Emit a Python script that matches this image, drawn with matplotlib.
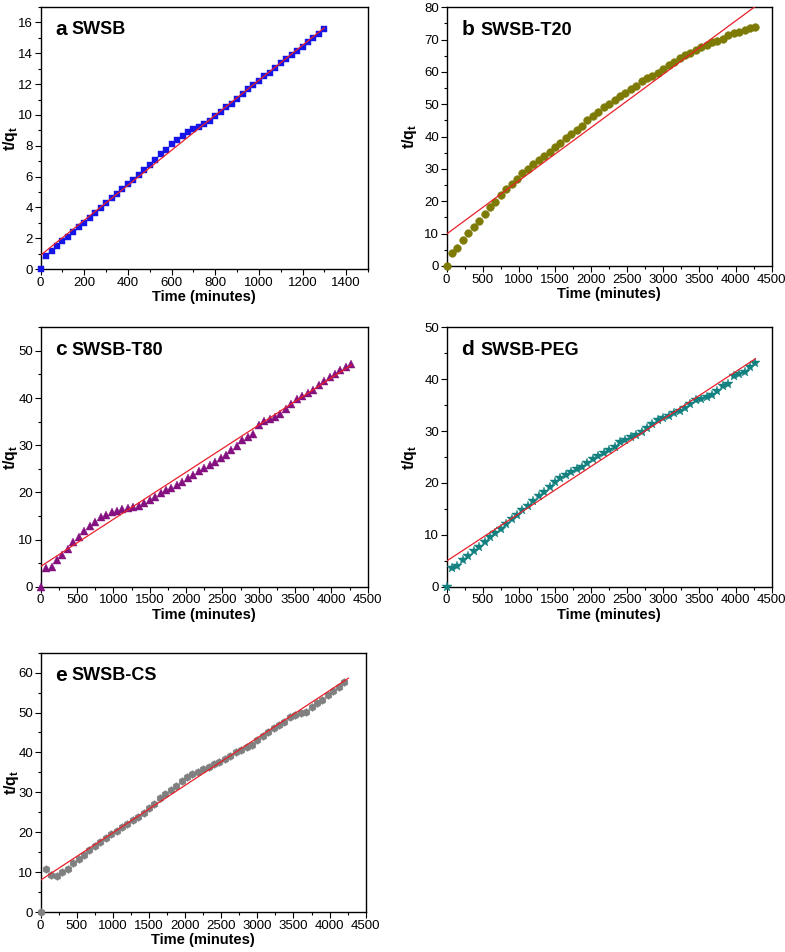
import numpy as np
import matplotlib
matplotlib.use("Agg")
import matplotlib.pyplot as plt
from matplotlib.ticker import MultipleLocator

plt.rcParams['font.family'] = ['Liberation Sans', 'DejaVu Sans']
plt.rcParams['mathtext.fontset'] = 'custom'
plt.rcParams['mathtext.bf'] = 'Liberation Sans:bold'
plt.rcParams['mathtext.rm'] = 'Liberation Sans'

# ---------------- data ----------------
# a SWSB
time_a = [0] + list(range(25, 1301, 25))
val_a = [0, 0.85, 1.17, 1.5, 1.8, 2.1, 2.43, 2.7, 3.0, 3.3, 3.63, 3.95, 4.3, 4.6, 4.9, 5.2,
         5.5, 5.8, 6.1, 6.4, 6.75, 7.1, 7.45, 7.75, 8.1, 8.4, 8.65, 8.9, 9.1, 9.2, 9.4, 9.6,
         9.9, 10.2, 10.5, 10.7, 11.05, 11.35, 11.65, 11.95, 12.2, 12.5, 12.75, 13.05, 13.35,
         13.65, 13.9, 14.15, 14.4, 14.7, 15.0, 15.25, 15.55]
fit_a = (0.9, 0.01135)          # intercept, slope
fit_range_a = (0, 1300)

# b SWSB-T20
time_b = [0] + list(range(75, 4276, 75))
val_b = [0, 3.9, 5.5, 8.0, 10.3, 12.2, 14.0, 16.1, 18.1, 19.9, 22.0, 23.8, 25.4, 26.9, 28.7,
         30.0, 31.5, 32.8, 34.1, 35.4, 36.9, 37.9, 39.5, 40.7, 42.1, 43.3, 45.2, 46.4, 47.6,
         49.1, 50.2, 51.3, 52.6, 53.6, 54.6, 55.8, 57.2, 58.0, 58.9, 59.7, 60.9, 62.2, 63.0,
         64.2, 65.2, 66.0, 66.8, 67.8, 68.5, 69.2, 69.7, 70.3, 71.3, 72.0, 72.4, 73.0, 73.7,
         73.8]
fit_b = (9.9, 0.01647)
fit_range_b = (0, 4300)

# c SWSB-T80
time_c = [0] + list(range(75, 4276, 75))
val_c = [0, 3.9, 4.2, 5.6, 6.7, 8.1, 9.4, 10.6, 11.8, 12.9, 13.8, 14.7, 15.3, 15.8, 16.1,
         16.4, 16.6, 16.8, 17.1, 17.7, 18.4, 19.1, 19.8, 20.5, 21.0, 21.5, 22.2, 23.0, 23.7,
         24.6, 25.1, 25.8, 26.5, 27.2, 27.9, 29.0, 29.9, 31.1, 31.7, 32.3, 34.3, 35.2, 35.5,
         35.9, 36.7, 37.6, 38.7, 39.7, 40.4, 41.1, 41.8, 42.7, 43.6, 44.5, 45.2, 45.9, 46.5,
         47.2]
fit_c = (4.3, 0.00999)
fit_range_c = (0, 4275)

# d SWSB-PEG
time_d = [0] + list(range(75, 4276, 75))
val_d = [0, 3.7, 4.0, 5.1, 6.0, 6.9, 7.7, 8.7, 9.5, 10.3, 11.1, 12.1, 13.0, 13.9, 14.8,
         15.6, 16.6, 17.4, 18.3, 19.3, 20.1, 21.0, 21.5, 22.2, 22.6, 23.1, 23.8, 24.6, 25.2,
         25.7, 26.3, 27.0, 27.8, 28.3, 28.8, 29.3, 29.9, 30.5, 31.3, 32.1, 32.5, 32.9, 33.4,
         33.9, 34.4, 35.3, 36.0, 36.1, 36.5, 36.9, 37.8, 38.7, 39.1, 40.6, 41.0, 41.3, 42.3,
         43.1]
fit_d = (4.95, 0.00912)
fit_range_d = (0, 4275)

# e SWSB-CS
time_e = [0] + list(range(75, 4201, 75))
val_e = [0, 10.7, 9.2, 9.1, 10.0, 10.9, 12.4, 13.2, 14.3, 15.5, 16.5, 17.6, 18.5, 19.5, 20.3,
         21.2, 22.1, 23.1, 23.9, 24.7, 26.0, 27.1, 28.5, 29.6, 30.6, 31.7, 32.8, 33.9, 34.6,
         35.2, 35.8, 36.4, 37.0, 37.7, 38.4, 39.2, 40.0, 40.7, 41.3, 41.9, 43.1, 44.2, 45.2,
         46.0, 46.9, 47.7, 48.8, 49.5, 50.0, 50.2, 51.3, 52.3, 53.1, 54.4, 55.5, 56.5, 57.6]
fit_e = (8.0, 0.01188)
fit_range_e = (0, 4260)

titles = ['a SWSB', 'b SWSB-T20', 'c SWSB-T80', 'd SWSB-PEG', 'e SWSB-CS']

# ---------------- plotting ----------------
fig = plt.figure(figsize=(7.85, 9.52), dpi=100)

panels = [
    dict(t=time_a, v=val_a, fit=fit_a, fr=fit_range_a, title=titles[0],
         pos=[0.0518, 0.7174, 0.417, 0.2752], xlim=(0, 1500), ylim=(0, 17),
         xmaj=200, xmin=100, ymaj=2, ymin=1, marker='s', color='#1515e8', ms=5.0,
         ylx=-0.062),
    dict(t=time_b, v=val_b, fit=fit_b, fr=fit_range_b, title=titles[1],
         pos=[0.569, 0.7206, 0.414, 0.2717], xlim=(0, 4500), ylim=(0, 80),
         xmaj=500, xmin=250, ymaj=10, ymin=5, marker='o', color='#7d7a05', ms=5.6,
         ylx=-0.086),
    dict(t=time_c, v=val_c, fit=fit_c, fr=fit_range_c, title=titles[2],
         pos=[0.0518, 0.3837, 0.4166, 0.2725], xlim=(0, 4500), ylim=(0, 55),
         xmaj=500, xmin=250, ymaj=10, ymin=5, marker='^', color='#85107f', ms=6.0,
         ylx=-0.062),
    dict(t=time_d, v=val_d, fit=fit_d, fr=fit_range_d, title=titles[3],
         pos=[0.569, 0.3837, 0.414, 0.2725], xlim=(0, 4500), ylim=(0, 50),
         xmaj=500, xmin=250, ymaj=10, ymin=5, marker='*', color='#138180', ms=7.2,
         ylx=-0.086),
    dict(t=time_e, v=val_e, fit=fit_e, fr=fit_range_e, title=titles[4],
         pos=[0.0518, 0.042, 0.4141, 0.2724], xlim=(0, 4500), ylim=(0, 65),
         xmaj=500, xmin=250, ymaj=10, ymin=5, marker='h', color='#808080', ms=5.6,
         ylx=-0.062),
]

for p in panels:
    ax = fig.add_axes(p['pos'])
    ax.plot(p['t'], p['v'], linestyle='none', marker=p['marker'], color=p['color'],
            markersize=p['ms'], markeredgewidth=0.3, markeredgecolor=p['color'],
            zorder=3, clip_on=False)
    xs = np.array(p['fr'], dtype=float)
    ax.plot(xs, p['fit'][0] + p['fit'][1] * xs, color='#e8202a', lw=0.9, zorder=4)
    ax.set_xlim(*p['xlim'])
    ax.set_ylim(*p['ylim'])
    ax.xaxis.set_major_locator(MultipleLocator(p['xmaj']))
    ax.xaxis.set_minor_locator(MultipleLocator(p['xmin']))
    ax.yaxis.set_major_locator(MultipleLocator(p['ymaj']))
    ax.yaxis.set_minor_locator(MultipleLocator(p['ymin']))
    ax.tick_params(which='both', direction='out', top=False, right=False,
                   labelsize=9.5, width=0.8, pad=1.5)
    ax.tick_params(which='major', length=4)
    ax.tick_params(which='minor', length=2.2)
    for s in ax.spines.values():
        s.set_linewidth(1.0)
    ax.set_xlabel('Time (minutes)', fontsize=10.5, fontweight='bold', labelpad=1)
    ax.set_ylabel(r'$\mathbf{t/q_t}$', fontsize=11.5)
    ax.yaxis.set_label_coords(p['ylx'], 0.5)
    ax.text(0.045, 0.95, p['title'][0], transform=ax.transAxes, fontsize=15,
            fontweight='bold', va='top', ha='left')
    ax.text(0.045 + (0.05 if p['title'][0] != 'd' and p['title'][0] != 'b' else 0.06),
            0.945, p['title'][2:], transform=ax.transAxes, fontsize=13,
            fontweight='bold', va='top', ha='left')

fig.savefig('out.png', dpi=100)
